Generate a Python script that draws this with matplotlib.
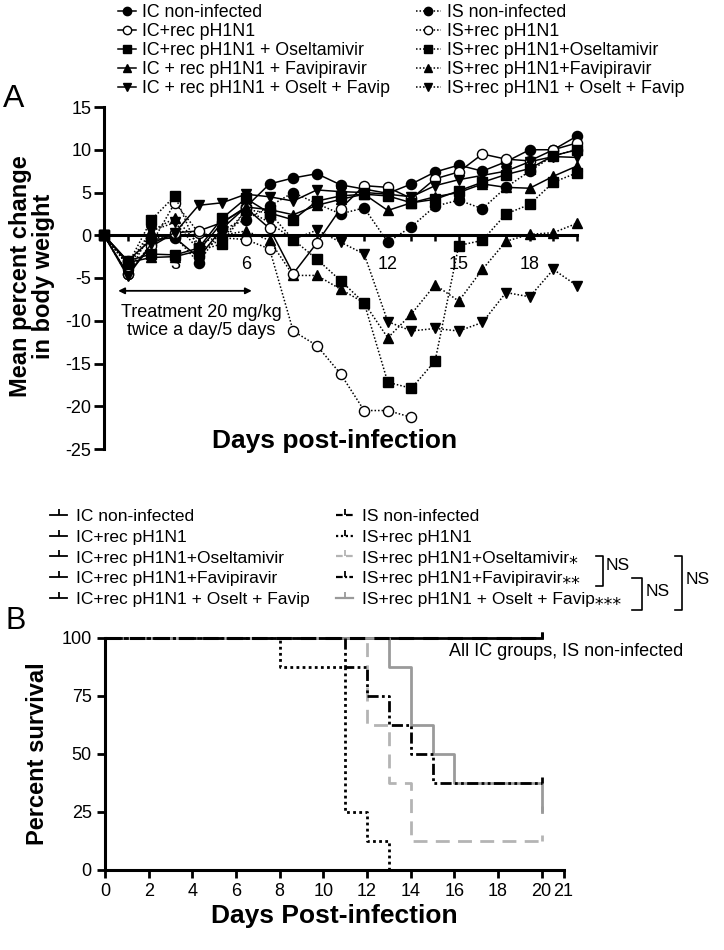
import numpy as np
import matplotlib.pyplot as plt
from matplotlib.lines import Line2D

plt.rcParams['font.family'] = ['Liberation Sans', 'DejaVu Sans']
plt.rcParams['axes.unicode_minus'] = False
plt.rcParams['mathtext.default'] = 'regular'

# ── Panel A: mean percent change in body weight ───────────────────────────
days = list(range(0, 21))

ic_noninf = [0, -3.0, -0.5, -0.3, -2.6, 0.8, 3.3, 6.0, 6.7, 7.2, 5.9, 5.4, 4.9, 6.0, 7.4, 8.2, 7.5, 8.6, 10.0, 10.0, 11.6]
ic_rec    = [0, -4.5, -1.3, 0.3, 0.5, 1.5, 3.2, 0.8, -4.5, -0.9, 3.1, 5.8, 5.6, 4.3, 6.6, 7.4, 9.5, 8.9, 8.7, 10.0, 10.8]
ic_osel   = [0, -3.0, -2.2, -2.3, -1.5, 2.0, 4.3, 2.6, 1.8, 4.0, 4.6, 4.8, 4.6, 3.8, 4.2, 5.2, 6.2, 7.1, 7.8, 9.3, 10.0]
ic_favi   = [0, -3.2, -2.6, -2.5, -1.8, 1.5, 3.3, 3.0, 2.4, 3.5, 4.2, 4.8, 2.9, 3.8, 4.5, 5.0, 6.0, 5.6, 5.5, 6.9, 8.1]
ic_of     = [0, -4.8, -1.0, 0.3, 3.5, 3.8, 4.8, 4.5, 4.0, 5.3, 5.1, 5.0, 4.8, 4.5, 5.8, 6.5, 7.0, 7.5, 8.6, 9.2, 9.1]
is_noninf = [0, -3.5, -0.3, -0.2, -3.2, 0.7, 1.8, 3.4, 5.0, 3.7, 2.5, 3.2, -0.8, 1.0, 3.4, 4.1, 3.1, 5.6, 7.5, 9.3, 10.0]
is_rec    = [0, -4.5, -1.0, 3.8, 0.3, -0.3, -0.5, -1.6, -11.2, -12.9, -16.2, -20.5, -20.5, -21.3]
is_osel   = [0, -3.5, 1.8, 4.6, -1.8, -1.0, 3.0, 2.6, -0.5, -2.8, -5.3, -7.9, -17.2, -17.9, -14.7, -1.2, -0.6, 2.5, 3.6, 6.2, 7.3]
is_favi   = [0, -3.5, 0.5, 2.0, -1.0, 0.0, 0.5, -0.6, -4.7, -4.7, -6.3, -7.9, -12.0, -9.2, -5.8, -7.7, -4.0, -0.7, 0.1, 0.3, 1.4]
is_of     = [0, -4.7, 0.5, 1.5, -1.7, -0.5, 3.0, 1.5, -0.5, 0.6, -0.8, -2.2, -10.1, -11.2, -10.9, -11.2, -10.2, -6.7, -7.2, -4.0, -5.9]

labels_ic = ['IC non-infected', 'IC+rec pH1N1', 'IC+rec pH1N1 + Oseltamivir',
             'IC + rec pH1N1 + Favipiravir', 'IC + rec pH1N1 + Oselt + Favip']
labels_is = ['IS non-infected', 'IS+rec pH1N1', 'IS+rec pH1N1+Oseltamivir',
             'IS+rec pH1N1+Favipiravir', 'IS+rec pH1N1 + Oselt + Favip']
xtick_labels_a = {3: '3', 6: '6', 12: '12', 15: '15', 18: '18'}

# ── Panel B: percent survival (Kaplan-Meier steps) ───────────────────────
t_all = [0, 20]
s_all = [100, 100]
t_is_rec = [0, 8, 11, 12, 13]
s_is_rec = [100, 87.5, 25, 12.5, 0]
t_is_osel = [0, 12, 13, 14, 20]
s_is_osel = [100, 62.5, 37.5, 12.5, 12.5]
t_is_favi = [0, 11, 12, 13, 14, 15, 20]
s_is_favi = [100, 87.5, 75, 62.5, 50, 37.5, 37.5]
t_is_of = [0, 13, 14, 15, 16, 20]
s_is_of = [100, 87.5, 62.5, 50, 37.5, 25]

labels_ic_b = ['IC non-infected', 'IC+rec pH1N1', 'IC+rec pH1N1+Oseltamivir',
               'IC+rec pH1N1+Favipiravir', 'IC+rec pH1N1 + Oselt + Favip']
labels_is_b = ['IS non-infected', 'IS+rec pH1N1', 'IS+rec pH1N1+Oseltamivir\u204e',
               'IS+rec pH1N1+Favipiravir\u204e\u204e', 'IS+rec pH1N1 + Oselt + Favip\u204e\u204e\u204e']

W, H = 724, 950
fig = plt.figure(figsize=(W / 100, H / 100), dpi=100)
fig.patch.set_facecolor('white')

# ── Panel A ────────────────────────────────────────────────────────────────
ax = fig.add_axes([104 / W, 1 - 449 / H, 473 / W, 342 / H])
ax.set_xlim(0, 20)
ax.set_ylim(-25, 15)

ic_series = [ic_noninf, ic_rec, ic_osel, ic_favi, ic_of]
is_series = [is_noninf, is_rec, is_osel, is_favi, is_of]
markers = ['o', 'o', 's', '^', 'v']
faces = ['black', 'white', 'black', 'black', 'black']

for vals, m, fc in zip(is_series, markers, faces):
    ax.plot(days[:len(vals)], vals, linestyle=(0, (1, 1.3)), color='black', lw=1.1,
            marker=m, ms=7.3, mfc=fc, mec='black', mew=1.0, clip_on=False, zorder=3)
for vals, m, fc in zip(ic_series, markers, faces):
    ax.plot(days[:len(vals)], vals, linestyle='-', color='black', lw=1.1,
            marker=m, ms=7.3, mfc=fc, mec='black', mew=1.0, clip_on=False, zorder=4)

ax.spines['top'].set_visible(False)
ax.spines['right'].set_visible(False)
ax.spines['bottom'].set_position(('data', 0))
ax.spines['bottom'].set_linewidth(2.2)
ax.spines['left'].set_linewidth(2.2)
ax.set_xticks(days)
ax.set_xticklabels([xtick_labels_a.get(d, '') for d in days])
ax.set_yticks(range(-25, 16, 5))
ax.tick_params(axis='x', direction='out', length=4, width=1.8, pad=11, labelsize=13)
ax.tick_params(axis='y', direction='out', length=7, width=2, pad=2, labelsize=13)

ax.annotate('', xy=(6.25, -6.5), xytext=(0.6, -6.5),
            arrowprops=dict(arrowstyle='<|-|>', color='black', lw=1.3,
                            mutation_scale=9, shrinkA=0, shrinkB=0))
ax.text(4.1, -10.1, 'Treatment 20 mg/kg\ntwice a day/5 days', ha='center', va='center',
        fontsize=13, linespacing=1.05)

fig.text(335 / W, 1 - 441 / H, 'Days post-infection', ha='center', va='center',
         fontsize=19, fontweight='bold')
fig.text(32 / W, 1 - 276 / H, 'Mean percent change\nin body weight', ha='center', va='center',
         rotation=90, fontsize=17, fontweight='bold', linespacing=1.0)
fig.text(3 / W, 1 - 99 / H, 'A', ha='left', va='center', fontsize=23)

# legend A
h_ic = [Line2D([], [], color='black', lw=1.1, ls='-', marker=m, ms=6, mfc=fc, mec='black')
        for m, fc in zip(markers, faces)]
h_is = [Line2D([], [], color='black', lw=1.1, ls=(0, (1, 1.3)), marker=m, ms=6, mfc=fc, mec='black')
        for m, fc in zip(markers, faces)]
leg_kw = dict(frameon=False, fontsize=12.8, borderpad=0, borderaxespad=0,
              labelspacing=0.11, handletextpad=0.35, numpoints=1)
fig.legend(h_ic, labels_ic, loc='upper left', bbox_to_anchor=(118 / W, 1 - 4 / H),
           handlelength=1.0, **leg_kw)
fig.legend(h_is, labels_is, loc='upper left', bbox_to_anchor=(416 / W, 1 - 4 / H),
           handlelength=1.4, **leg_kw)

# ── Panel B ────────────────────────────────────────────────────────────────
tick_mark = [(0, 0), (0, 1)]
bx = fig.add_axes([105 / W, 1 - 870 / H, 458.5 / W, 232 / H])
bx.set_xlim(0, 21)
bx.set_ylim(0, 100)

curves = [
    (t_all, s_all, 'black', '-', 2.0),
    (t_is_of, s_is_of, '#9a9a9a', '-', 2.0),
    (t_is_osel, s_is_osel, '#b4b4b4', (0, (5, 3)), 2.0),
    (t_is_favi, s_is_favi, 'black', (0, (4, 1.2, 1, 1.2, 1, 1.2)), 2.0),
    (t_is_rec, s_is_rec, 'black', (0, (1, 1.2)), 2.0),
    (t_all, s_all, 'black', (0, (5, 3)), 2.2),
]
for t, s, c, ls, lw in curves:
    bx.step(t, s, where='post', color=c, ls=ls, lw=lw, clip_on=False)
    if s[-1] > 0:
        bx.plot(t[-1], s[-1], marker=tick_mark, ms=9, mew=2, color=c, ls='none', clip_on=False)

bx.spines['top'].set_visible(False)
bx.spines['right'].set_visible(False)
bx.spines['bottom'].set_linewidth(2.2)
bx.spines['left'].set_linewidth(2.2)
bx.set_xticks(list(range(0, 21, 2)) + [21])
bx.set_yticks([0, 25, 50, 75, 100])
bx.tick_params(axis='both', direction='out', length=6, width=2, labelsize=13)
bx.tick_params(axis='x', pad=3)
bx.text(15.75, 94.2, 'All IC groups, IS non-infected', ha='left', va='center',
        fontsize=13, clip_on=False)

fig.text(334 / W, 1 - 916 / H, 'Days Post-infection', ha='center', va='center',
         fontsize=19, fontweight='bold')
fig.text(38 / W, 1 - 754 / H, 'Percent survival', ha='center', va='center',
         rotation=90, fontsize=17, fontweight='bold')
fig.text(5 / W, 1 - 621 / H, 'B', ha='left', va='center', fontsize=22)

# legend B
hb_ic = [Line2D([], [], color='black', lw=1.3, ls='-', marker=tick_mark, ms=8, mew=1.3)
         for _ in labels_ic_b]
hb_is = [Line2D([], [], color=c, lw=1.6, ls=ls, marker=tick_mark, ms=8, mew=1.3)
         for c, ls in [('black', (0, (3, 1.5))), ('black', (0, (1, 1.2))),
                       ('#b4b4b4', (0, (3, 1.5))), ('black', (0, (3, 1, 1, 1))),
                       ('#9a9a9a', '-')]]
legb_kw = dict(frameon=False, fontsize=12.5, borderpad=0, borderaxespad=0,
               labelspacing=0.32, handletextpad=0.5, numpoints=1, handlelength=1.0)
fig.legend(hb_ic, labels_ic_b, loc='upper left', bbox_to_anchor=(50 / W, 1 - 509 / H), **legb_kw)
fig.legend(hb_is, labels_is_b, loc='upper left', bbox_to_anchor=(336 / W, 1 - 509 / H), **legb_kw)

# NS brackets
def bracket(x, y0, y1, arm=7):
    fig.add_artist(Line2D([(x - arm) / W, x / W, x / W, (x - arm) / W],
                          [1 - y0 / H, 1 - y0 / H, 1 - y1 / H, 1 - y1 / H],
                          color='black', lw=1.2, transform=fig.transFigure))

bracket(603, 556, 586)
fig.text(606 / W, 1 - 566 / H, 'NS', fontsize=12.5, va='center')
bracket(642, 578, 610, arm=10)
fig.text(646 / W, 1 - 592 / H, 'NS', fontsize=12.5, va='center')
bracket(682, 556, 610)
fig.text(686 / W, 1 - 580 / H, 'NS', fontsize=12.5, va='center')

fig.savefig('out.png', dpi=100, facecolor='white')
